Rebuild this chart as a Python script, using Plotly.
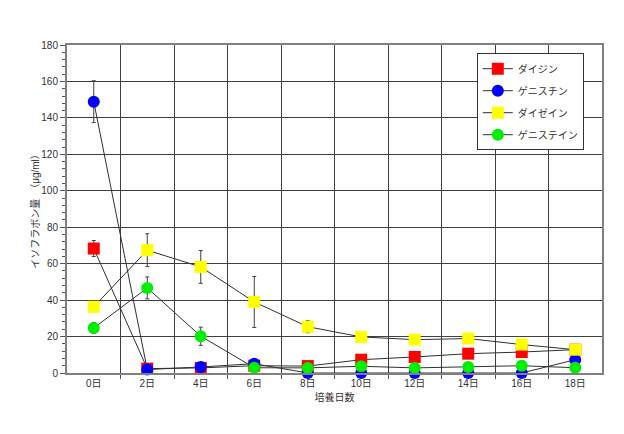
import math
import plotly.graph_objects as go

nan = math.nan

days = [0, 2, 4, 6, 8, 10, 12, 14, 16, 18]
day_labels = [f"{d}日" for d in days]

names = ["ダイジン", "ゲニスチン", "ダイゼイン", "ゲニステイン"]
daidzin = [68.3, 2.4, 2.8, 4.0, 3.8, 7.3, 8.8, 10.6, 11.5, 12.8]
genistin = [148.9, 1.9, 3.3, 5.1, 0.0, 0.0, 0.0, 0.0, 0.0, 7.3]
daidzein = [36.3, 67.4, 58.2, 39.0, 25.4, 19.8, 18.3, 18.9, 15.6, 12.8]
genistein = [24.7, 46.7, 20.2, 2.9, 2.8, 3.7, 2.8, 3.3, 4.0, 2.9]

daidzin_err = [4.4, nan, nan, nan, nan, nan, nan, nan, nan, nan]
genistin_err = [11.5, nan, nan, nan, nan, nan, nan, nan, nan, nan]
daidzein_err = [nan, 9.0, 9.0, 14.0, 3.3, nan, nan, nan, nan, nan]
genistein_err = [3.0, 6.0, 5.0, nan, nan, nan, nan, nan, nan, nan]

FONT = "Liberation Sans, Arial, Noto Sans CJK JP"

series = [
    (names[0], daidzin, daidzin_err, "#ff0000", "square"),
    (names[1], genistin, genistin_err, "#0000ff", "circle"),
    (names[2], daidzein, daidzein_err, "#ffff00", "square"),
    (names[3], genistein, genistein_err, "#00ee00", "circle"),
]

fig = go.Figure()
for i, (name, vals, err, color, sym) in enumerate(series):
    fig.add_trace(go.Scatter(
        x=days, y=vals, name=name, mode="lines+markers",
        legendgroup=f"g{i}",
        line=dict(color="#303030", width=1),
        marker=dict(color=color, symbol=sym, size=12, line=dict(width=0)),
        error_y=dict(type="data", array=err, visible=True, color="#404040",
                     thickness=1, width=2),
        cliponaxis=False,
    ))

fig.update_xaxes(
    range=[-1, 19], tickvals=days, ticktext=day_labels, ticks="",
    showgrid=False, zeroline=False,
    showline=True, linecolor="#808080", linewidth=2, mirror=True,
    tickfont=dict(size=10, color="#333", family=FONT),
    minor=dict(tickvals=list(range(1, 19, 2)), ticks="outside", ticklen=4,
               tickcolor="#555", showgrid=True, gridcolor="#404040", gridwidth=1),
    title=dict(text="培養日数", font=dict(size=10, color="#333", family=FONT), standoff=6),
)
fig.update_yaxes(
    range=[0, 180], dtick=20, ticks="outside", ticklen=5, tickcolor="#555",
    showgrid=True, gridcolor="#404040", gridwidth=1, zeroline=False,
    showline=True, linecolor="#808080", linewidth=2, mirror=True,
    tickfont=dict(size=10, color="#333", family=FONT),
    minor=dict(dtick=4, ticks="outside", ticklen=3, tickcolor="#555", showgrid=False),
    title=dict(text="イソフラボン量　（μg/ml）", font=dict(size=10, color="#333", family=FONT),
               standoff=0),
)

# page body adds an 8px offset, so margins are shifted to compensate
fig.update_layout(
    width=624, height=434,
    margin=dict(l=59, r=30, t=37, b=69),
    plot_bgcolor="white", paper_bgcolor="white",
    font=dict(family=FONT, size=10, color="#333"),
    legend=dict(x=0.766, y=0.975, xanchor="left", yanchor="top",
                bgcolor="white", bordercolor="#333", borderwidth=1,
                tracegroupgap=3, font=dict(size=10, color="#333", family=FONT)),
)

fig.write_html("out.html")
